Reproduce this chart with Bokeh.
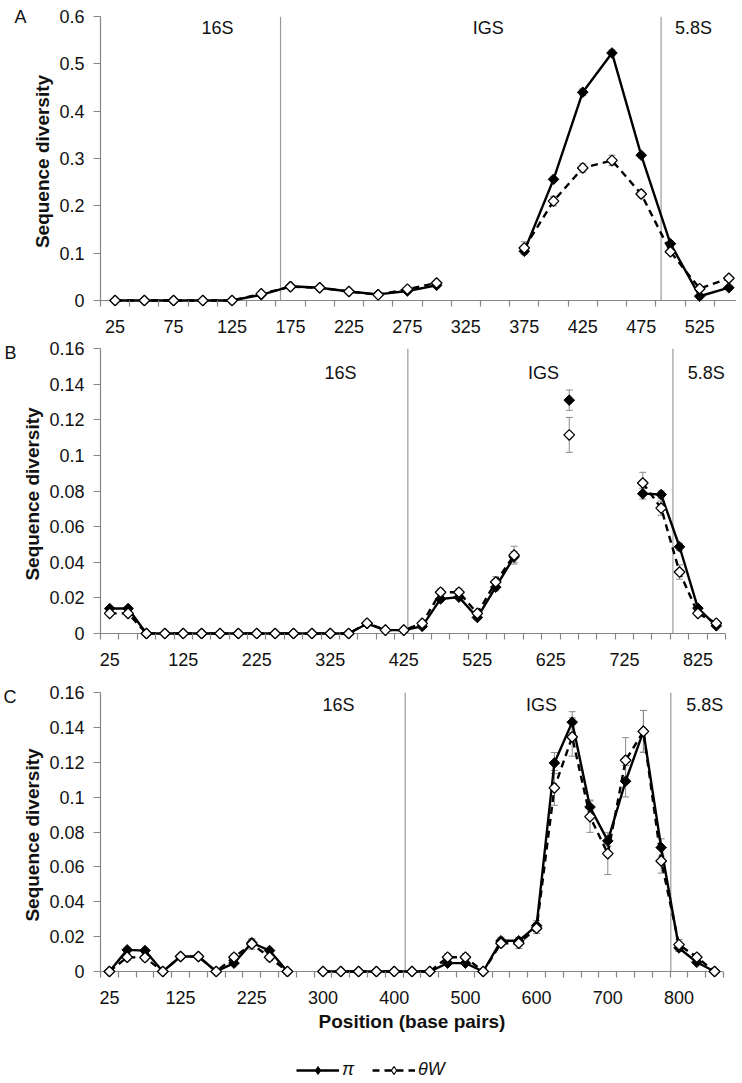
import math
from bokeh.plotting import figure
from bokeh.models import (Range1d, FixedTicker, ColumnDataSource, Whisker, TeeHead,
                          Legend, LegendItem, LinearAxis, Span)
from bokeh.layouts import column
from bokeh.embed import file_html
from bokeh.resources import INLINE
from bokeh.core.properties import value

nan = float("nan")
FONT = "Liberation Sans"
AXC = "#868686"
DIVC = "#9a9a9a"
ERRC = "#8a8a8a"
TXT = "#111111"

# ---------------- Panel A data ----------------
A_ticklabels = ["25", "75", "125", "175", "225", "275", "325", "375", "425", "475", "525"]
A_pi = [0, 0, 0, 0, 0, 0.012, 0.030, 0.027, 0.019, 0.013, 0.020, 0.032, nan, nan,
        0.104, 0.256, 0.440, 0.523, 0.307, 0.120, 0.009, 0.027]
A_tw = [0, 0, 0, 0, 0, 0.014, 0.029, 0.027, 0.019, 0.012, 0.024, 0.037, nan, nan,
        0.111, 0.210, 0.280, 0.296, 0.225, 0.103, 0.025, 0.047]
A_pi_err = [0, 0, 0, 0, 0, 0.002, 0.003, 0.002, 0.002, 0.002, 0.003, 0.003, nan, nan,
            0.005, 0.005, 0.007, 0.006, 0.004, 0.005, 0.003, 0.003]
A_tw_err = [0, 0, 0, 0, 0, 0.002, 0.003, 0.002, 0.002, 0.002, 0.003, 0.004, nan, nan,
            0.013, 0.010, 0.009, 0.011, 0.008, 0.004, 0.003, 0.003]
A_yticks = [0, 0.1, 0.2, 0.3, 0.4, 0.5, 0.6]
A_yticklabels = ["0", "0.1", "0.2", "0.3", "0.4", "0.5", "0.6"]
A_regions = ["16S", "IGS", "5.8S"]

# ---------------- Panel B data ----------------
B_ticklabels = ["25", "125", "225", "325", "425", "525", "625", "725", "825"]
B_pi = [0.014, 0.014, 0, 0, 0, 0, 0, 0, 0, 0, 0, 0, 0, 0,
        0.0055, 0.0019, 0.0019, 0.004, 0.0194, 0.0204, 0.009, 0.026, 0.043,
        nan, nan, 0.131, nan, nan, nan,
        0.0785, 0.078, 0.0487, 0.0142, 0.0043]
B_tw = [0.0113, 0.0113, 0, 0, 0, 0, 0, 0, 0, 0, 0, 0, 0, 0,
        0.0058, 0.0019, 0.0019, 0.0057, 0.0232, 0.0232, 0.0113, 0.0289, 0.044,
        nan, nan, 0.1115, nan, nan, nan,
        0.0845, 0.0704, 0.0345, 0.0113, 0.0058]
B_pi_err = [0.001, 0.001, 0, 0, 0, 0, 0, 0, 0, 0, 0, 0, 0, 0,
            0.001, 0, 0, 0.001, 0.0015, 0.0015, 0.001, 0.002, 0.003,
            nan, nan, 0.0057, nan, nan, nan,
            0.003, 0.002, 0.002, 0.001, 0.001]
B_tw_err = [0.001, 0.001, 0, 0, 0, 0, 0, 0, 0, 0, 0, 0, 0, 0,
            0.001, 0, 0, 0.001, 0.002, 0.002, 0.001, 0.003, 0.005,
            nan, nan, 0.0098, nan, nan, nan,
            0.006, 0.004, 0.004, 0.001, 0.001]
B_yticks = [0, 0.02, 0.04, 0.06, 0.08, 0.1, 0.12, 0.14, 0.16]
B_yticklabels = ["0", "0.02", "0.04", "0.06", "0.08", "0.1", "0.12", "0.14", "0.16"]
B_regions = ["16S", "IGS", "5.8S"]

# ---------------- Panel C data ----------------
C_ticklabels = ["25", "125", "225", "300", "400", "500", "600", "700", "800"]
C_pi = [0, 0.0124, 0.012, 0, 0.0086, 0.0086, 0, 0.0048, 0.0165, 0.012, 0, nan,
        0, 0, 0, 0, 0, 0, 0, 0.0048, 0.0048, 0, 0.0176, 0.0176, 0.0263,
        0.1196, 0.143, 0.0943, 0.0749, 0.1091, 0.1377, 0.0711, 0.0135, 0.0053, 0]
C_tw = [0, 0.0082, 0.008, 0, 0.0086, 0.0086, 0, 0.0082, 0.0158, 0.0082, 0, nan,
        0, 0, 0, 0, 0, 0, 0, 0.0082, 0.0082, 0, 0.0162, 0.0162, 0.0248,
        0.1053, 0.1345, 0.0888, 0.0676, 0.1211, 0.1377, 0.0634, 0.0154, 0.0082, 0]
C_pi_err = [0, 0.001, 0.001, 0, 0.001, 0.001, 0, 0.001, 0.002, 0.001, 0, nan,
            0, 0, 0, 0, 0, 0, 0, 0.001, 0.001, 0, 0.002, 0.002, 0.003,
            0.006, 0.006, 0.004, 0.003, 0.009, 0.012, 0.005, 0.002, 0.001, 0]
C_tw_err = [0, 0.002, 0.002, 0, 0.001, 0.001, 0, 0.002, 0.003, 0.002, 0, nan,
            0, 0, 0, 0, 0, 0, 0, 0.002, 0.002, 0, 0.002, 0.003, 0.003,
            0.010, 0.011, 0.009, 0.012, 0.013, 0.012, 0.007, 0.003, 0.002, 0]
C_yticks = B_yticks
C_yticklabels = B_yticklabels
C_regions = ["16S", "IGS", "5.8S"]

SERIES_NAMES = ["π", "θW"]

PAD = 6  # px of frame below the zero line, so that markers at 0 are not clipped

PI_LINE = dict(line_color="black", line_width=2.4)
TW_LINE = dict(line_color="black", line_width=2.4, line_dash="7 5")
PI_MARK = dict(marker="square", angle=math.pi / 4, size=7.5, fill_color="black",
               line_color="black", line_width=1)
TW_MARK = dict(marker="square", angle=math.pi / 4, size=7.5, fill_color="white",
               line_color="black", line_width=1.3)
PI_LEG_MARK = dict(marker="diamond", fill_color="black", line_color="black", line_width=1)
TW_LEG_MARK = dict(marker="diamond", fill_color="white", line_color="black", line_width=1.2)


def make_panel(pi, tw, pi_err, tw_err, ticklabels, step, yticks, yticklabels,
               regions, region_x, region_y, dividers, letter,
               frame_w, data_h, border_left, border_top, border_bottom,
               xlabel=None):
    n = len(pi)
    ymax = yticks[-1]
    ypad = ymax * PAD / data_h
    p = figure(frame_width=frame_w, frame_height=data_h + PAD,
               x_range=Range1d(-0.5, n - 0.5), y_range=Range1d(-ypad, ymax),
               output_backend="svg", toolbar_location=None,
               min_border_left=border_left, min_border_right=4,
               min_border_top=border_top, min_border_bottom=border_bottom)
    p.outline_line_color = None
    p.xgrid.visible = False
    p.ygrid.visible = False

    idx = list(range(n))

    # x axis line at zero
    p.add_layout(Span(location=0, dimension="width", line_color=AXC, line_width=1.2,
                      level="underlay"))

    # region dividers
    p.segment(x0=dividers, y0=[0] * len(dividers), x1=dividers, y1=[ymax] * len(dividers),
              line_color=DIVC, line_width=1.2)

    # error bars
    for vals, errs in ((pi, pi_err), (tw, tw_err)):
        xs, up, lo = [], [], []
        for i, v, e in zip(idx, vals, errs):
            if v == v and e == e and e > 0:
                xs.append(i)
                up.append(v + e)
                lo.append(v - e)
        src = ColumnDataSource(dict(x=xs, upper=up, lower=lo))
        w = Whisker(source=src, base="x", upper="upper", lower="lower",
                    dimension="height", line_color=ERRC, line_width=1,
                    upper_head=TeeHead(size=7, line_color=ERRC, line_width=1),
                    lower_head=TeeHead(size=7, line_color=ERRC, line_width=1),
                    level="underlay")
        p.add_layout(w)

    p.line(idx, tw, **TW_LINE)
    p.line(idx, pi, **PI_LINE)
    p.scatter(idx, pi, **PI_MARK)
    p.scatter(idx, tw, **TW_MARK)

    # region names
    p.text(x=region_x, y=[region_y] * len(regions), text=regions,
           text_font=value(FONT), text_font_size="18px", text_color=TXT,
           text_align="center", text_baseline="alphabetic")

    # x axis (labels and category tick marks)
    label_pos = [i * step for i in range(len(ticklabels))]
    xa = p.xaxis[0]
    xa.ticker = FixedTicker(ticks=label_pos, minor_ticks=[i - 0.5 for i in range(n + 1)])
    xa.major_label_overrides = {pos: lab for pos, lab in zip(label_pos, ticklabels)}
    xa.axis_line_color = None
    xa.major_tick_line_color = None
    xa.major_tick_out = 0
    xa.major_tick_in = 0
    xa.minor_tick_line_color = AXC
    xa.minor_tick_line_width = 1.2
    xa.minor_tick_out = 0
    xa.minor_tick_in = PAD
    xa.major_label_standoff = 13
    xa.major_label_text_font = FONT
    xa.major_label_text_font_size = "18px"
    xa.major_label_text_color = TXT
    if xlabel:
        xa.axis_label = xlabel
        xa.axis_label_text_font = FONT
        xa.axis_label_text_font_size = "19px"
        xa.axis_label_text_font_style = "bold"
        xa.axis_label_text_color = TXT
        xa.axis_label_standoff = 4

    # y axis
    ya = p.yaxis[0]
    ya.ticker = FixedTicker(ticks=yticks, minor_ticks=[])
    ya.major_label_overrides = {t: l for t, l in zip(yticks, yticklabels)}
    ya.bounds = (0, ymax)
    ya.axis_line_color = AXC
    ya.axis_line_width = 1.2
    ya.major_tick_line_color = AXC
    ya.major_tick_out = 7
    ya.major_tick_in = 0
    ya.minor_tick_out = 0
    ya.minor_tick_in = 0
    ya.major_label_standoff = 9
    ya.major_label_text_font = FONT
    ya.major_label_text_font_size = "18px"
    ya.major_label_text_color = TXT
    ya.axis_label = "Sequence diversity"
    ya.axis_label_text_font = FONT
    ya.axis_label_text_font_size = "19px"
    ya.axis_label_text_font_style = "bold"
    ya.axis_label_text_color = TXT
    ya.axis_label_standoff = 3

    # panel letter, as an outer left axis with one labelled tick at the top
    la = LinearAxis(ticker=FixedTicker(ticks=[ymax], minor_ticks=[]),
                    major_label_overrides={ymax: letter},
                    axis_line_color=None, major_tick_line_color=None,
                    minor_tick_line_color=None, major_tick_out=0, major_tick_in=0,
                    minor_tick_out=0, minor_tick_in=0, major_label_standoff=3,
                    major_label_text_font=FONT, major_label_text_font_size="18px",
                    major_label_text_color=TXT)
    p.add_layout(la, "left")
    return p


pA = make_panel(A_pi, A_tw, A_pi_err, A_tw_err, A_ticklabels, 2, A_yticks, A_yticklabels,
                A_regions, [3.50, 12.77, 19.79], 0.5757, [5.66, 18.68], "A",
                frame_w=643, data_h=284, border_left=87, border_top=16, border_bottom=34)

pB = make_panel(B_pi, B_tw, B_pi_err, B_tw_err, B_ticklabels, 4, B_yticks, B_yticklabels,
                B_regions, [12.56, 23.6, 32.45], 0.1465, [16.22, 30.64], "B",
                frame_w=625, data_h=285, border_left=89, border_top=8, border_bottom=45)

pC = make_panel(C_pi, C_tw, C_pi_err, C_tw_err, C_ticklabels, 4, C_yticks, C_yticklabels,
                C_regions, [12.87, 24.28, 33.45], 0.1531, [16.62, 31.54], "C",
                frame_w=623, data_h=279, border_left=89, border_top=8, border_bottom=65,
                xlabel="Position (base pairs)")

# ---------------- legend strip below the panels ----------------
pL = figure(width=700, height=38, x_range=Range1d(0, 1), y_range=Range1d(0, 1),
            x_axis_type=None, y_axis_type=None, output_backend="svg",
            toolbar_location=None, min_border=0)
pL.outline_line_color = None
pL.xgrid.visible = False
pL.ygrid.visible = False
# placeholder renderers (no visible data) that only carry the legend styles
lp = pL.line([nan], [nan], **PI_LINE)
mp = pL.scatter([nan], [nan], **PI_LEG_MARK)
lt = pL.line([nan], [nan], **TW_LINE)
mt = pL.scatter([nan], [nan], **TW_LEG_MARK)
legend = Legend(items=[LegendItem(label=SERIES_NAMES[0], renderers=[lp, mp]),
                       LegendItem(label=SERIES_NAMES[1], renderers=[lt, mt])],
                orientation="horizontal", location=(196, 0),
                border_line_color=None, background_fill_alpha=0,
                label_text_font=FONT, label_text_font_style="italic",
                label_text_font_size="18px", label_text_color=TXT,
                glyph_width=43, glyph_height=20, label_height=18,
                label_standoff=3, spacing=10, padding=0, margin=0)
pL.add_layout(legend)

layout = column(pA, pB, pC, pL, spacing=0)
open("out.html", "w").write(file_html(layout, INLINE))
